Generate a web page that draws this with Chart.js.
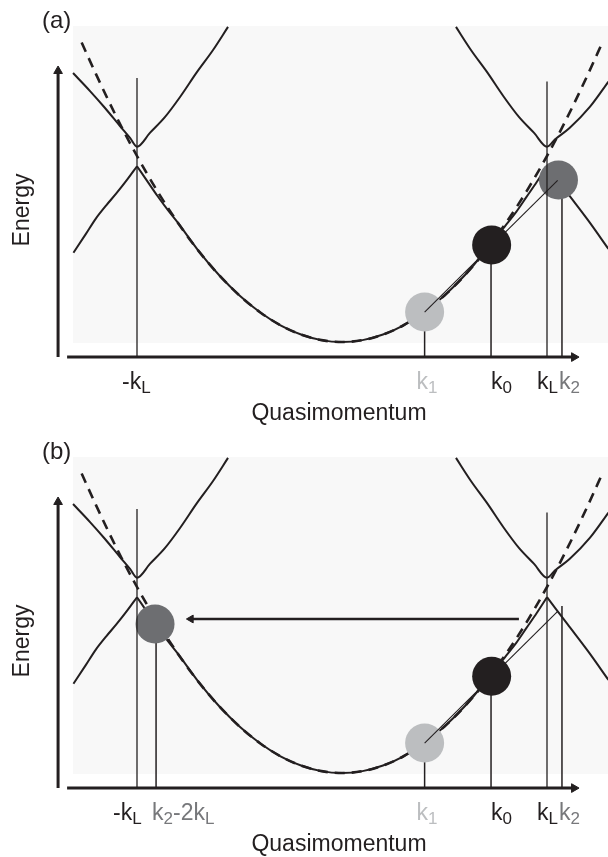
<!DOCTYPE html>
<html>
<head>
<meta charset="utf-8">
<script src="https://cdn.jsdelivr.net/npm/chart.js@4.4.1/dist/chart.umd.min.js"></script>
<style>
  body { margin: 0; background: #fff; }
  .panel { position: absolute; left: 0; }
</style>
</head>
<body>
<div class="panel" style="top:0"><canvas id="chartA" width="608" height="431"></canvas></div>
<div class="panel" style="top:431px"><canvas id="chartB" width="608" height="426"></canvas></div>
<script>
// k in units of k_L, energy in units of the free-particle energy at k_L

// free particle parabola (dashed)
const freeK = [-1.27, -1.2, -1.1, -1.0, -0.9, -0.8, -0.7, -0.6, -0.5, -0.4, -0.3, -0.2, -0.1, 0,
               0.1, 0.2, 0.3, 0.4, 0.5, 0.6, 0.7, 0.8, 0.9, 1.0, 1.1, 1.2, 1.27];
const freeE = [1.61, 1.44, 1.21, 1.0, 0.81, 0.64, 0.49, 0.36, 0.25, 0.16, 0.09, 0.04, 0.01, 0,
               0.01, 0.04, 0.09, 0.16, 0.25, 0.36, 0.49, 0.64, 0.81, 1.0, 1.21, 1.44, 1.61];

// lowest band inside the zone
const lowerK = [-1.0, -0.95, -0.9, -0.85, -0.8, -0.7, -0.6, -0.5, -0.4, -0.3, -0.2, -0.1, 0,
                0.1, 0.2, 0.3, 0.4, 0.5, 0.6, 0.7, 0.8, 0.85, 0.9, 0.95, 1.0];
const lowerE = [0.945, 0.865, 0.785, 0.71, 0.64, 0.49, 0.36, 0.25, 0.16, 0.09, 0.04, 0.01, 0,
                0.01, 0.04, 0.09, 0.16, 0.25, 0.36, 0.49, 0.63, 0.70, 0.78, 0.86, 0.945];

// lowest band folded back outside the zone
const foldLeftK = [-1.31, -1.25, -1.2, -1.15, -1.1, -1.05, -1.0];
const foldLeftE = [0.48, 0.58, 0.665, 0.735, 0.80, 0.87, 0.945];
const foldRightK = [1.0, 1.1, 1.2, 1.3];
const foldRightE = [0.945, 0.80, 0.655, 0.50];

// second band around -k_L and +k_L
const upperLeftK = [-1.312, -1.229, -1.156, -1.083, -1.034, -1.0, -0.937, -0.863, -0.79, -0.707, -0.629, -0.556];
const upperLeftE = [1.446, 1.349, 1.258, 1.161, 1.097, 1.05, 1.124, 1.21, 1.317, 1.452, 1.57, 1.694];
const upperRightK = [0.556, 0.629, 0.707, 0.79, 0.863, 0.937, 1.0, 1.04, 1.11, 1.21, 1.30];
const upperRightE = [1.694, 1.57, 1.452, 1.317, 1.21, 1.124, 1.05, 1.09, 1.15, 1.265, 1.40];

// atoms
const atomK_A = [0.403, 0.73, 1.056];
const atomE_A = [0.161, 0.522, 0.871];
const atomK_B = [0.403, 0.73, -0.912];
const atomE_B = [0.161, 0.52, 0.801];
const atomColors = ['#bcbec0', '#231f20', '#6d6e71'];

// tick positions and where their stems end
const ticksA = [-1, 0.403, 0.727, 1, 1.073];
const stemTopA = [1.42, 0.161, 0.522, 1.40, 0.871];
const ticksB = [-1, -0.907, 0.403, 0.727, 1, 1.073];
const stemTopB = [1.42, 0.801, 0.161, 0.52, 1.40, 0.898];

const tickTextA = [[['-k', 0], ['L', 1]], [['k', 0], ['1', 1]], [['k', 0], ['0', 1]], [['k', 0], ['L', 1]], [['k', 0], ['2', 1]]];
const tickTextB = [[['-k', 0], ['L', 1]], [['k', 0], ['2', 1], ['-2k', 0], ['L', 1]], [['k', 0], ['1', 1]],
                   [['k', 0], ['0', 1]], [['k', 0], ['L', 1]], [['k', 0], ['2', 1]]];
const tickColorA = ['#231f20', '#bcbec0', '#231f20', '#231f20', '#77787b'];
const tickColorB = ['#231f20', '#77787b', '#bcbec0', '#231f20', '#231f20', '#77787b'];
const tickShiftA = [-15, -8, 0, -10, -3];
const tickShiftB = [-24, -4, -8, 0, -10, -3];

// group-velocity chord and Bragg arrow
const chordK = [0.403, 1.052];
const chordE = [0.161, 0.869];
const braggK = [0.863, -0.737];
const braggE = [0.828, 0.828];

const axisE = -0.081;
const ink = '#231f20';
const font = '"Liberation Sans", Arial, Helvetica, sans-serif';

function pts(ks, es) {
  return ks.map(function (k, i) { return { x: k, y: es[i] }; });
}

function curve(ks, es, extra) {
  return Object.assign({
    data: pts(ks, es),
    showLine: true,
    pointRadius: 0,
    borderColor: ink,
    borderWidth: 2,
    borderJoinStyle: 'round',
    cubicInterpolationMode: 'monotone',
    order: 7
  }, extra || {});
}

function segment(k0, e0, k1, e1, width, order) {
  return {
    data: [{ x: k0, y: e0 }, { x: k1, y: e1 }],
    showLine: true,
    pointRadius: 0,
    borderColor: ink,
    borderWidth: width,
    tension: 0,
    order: order
  };
}

function drawPieces(ctx, x, y, pieces, color) {
  ctx.fillStyle = color;
  ctx.textAlign = 'left';
  ctx.textBaseline = 'alphabetic';
  pieces.forEach(function (p) {
    ctx.font = (p[1] ? '17px ' : '23px ') + font;
    ctx.fillText(p[0], x, p[1] ? y + 4 : y);
    x += ctx.measureText(p[0]).width;
  });
}

function makePanel(id, height, tag, ticks, stemTop, tickText, tickColor, tickShift, atomK, atomE, withArrow) {
  const ds = [];

  // axes with arrow heads
  ds.push({
    data: [{ x: -1.385, y: axisE }, { x: -1.385, y: 1.457 }],
    showLine: true, borderColor: ink, borderWidth: 3,
    pointRadius: [0, 5], pointStyle: 'triangle', pointRotation: 0,
    pointBackgroundColor: ink, pointBorderColor: ink, pointBorderWidth: 1, order: 10
  });
  ds.push({
    data: [{ x: -1.341, y: axisE }, { x: 1.132, y: axisE }],
    showLine: true, borderColor: ink, borderWidth: 3,
    pointRadius: [0, 5], pointStyle: 'triangle', pointRotation: 90,
    pointBackgroundColor: ink, pointBorderColor: ink, pointBorderWidth: 1, order: 10
  });

  // vertical lines at the ticks: tall ones at +-k_L go over the atoms
  ticks.forEach(function (k, i) {
    const tall = Math.abs(k) === 1;
    ds.push(segment(k, axisE, k, stemTop[i], tall ? 1.3 : 1.5, tall ? 5 : 9));
  });

  ds.push(curve(freeK, freeE, { borderDash: [10, 7], borderWidth: 2.6, order: 8 }));
  ds.push(curve(lowerK, lowerE));
  ds.push(curve(foldLeftK, foldLeftE));
  ds.push(curve(foldRightK, foldRightE));
  ds.push(curve(upperLeftK, upperLeftE));
  ds.push(curve(upperRightK, upperRightE));

  ds.push({
    data: pts(atomK, atomE),
    showLine: false,
    pointRadius: 19.5,
    pointHoverRadius: 19.5,
    pointBackgroundColor: atomColors,
    pointBorderWidth: 0,
    order: 6
  });

  ds.push(segment(chordK[0], chordE[0], chordK[1], chordE[1], 1.1, 4));

  if (withArrow) {
    ds.push({
      data: pts(braggK, braggE),
      showLine: true, borderColor: ink, borderWidth: 2.6,
      pointRadius: [0, 4.5], pointStyle: 'triangle', pointRotation: -90,
      pointBackgroundColor: ink, pointBorderColor: ink, pointBorderWidth: 1, order: 3
    });
  }

  const backdrop = {
    id: 'backdrop',
    beforeDatasetsDraw: function (chart) {
      const c = chart.ctx, xs = chart.scales.x, ys = chart.scales.y;
      const l = xs.getPixelForValue(-1.312), t = ys.getPixelForValue(1.699);
      const b = ys.getPixelForValue(-0.005);
      c.save();
      c.fillStyle = '#f8f8f8';
      c.fillRect(l, t, chart.width - l, b - t);
      c.restore();
    }
  };

  const labels = {
    id: 'labels',
    afterDraw: function (chart) {
      const c = chart.ctx, xs = chart.scales.x, ys = chart.scales.y;
      const base = ys.getPixelForValue(axisE);
      c.save();
      ticks.forEach(function (k, i) {
        drawPieces(c, xs.getPixelForValue(k) + tickShift[i], base + 32, tickText[i], tickColor[i]);
      });
      c.fillStyle = ink;
      c.font = '23px ' + font;
      c.textAlign = 'center';
      c.textBaseline = 'alphabetic';
      c.fillText('Quasimomentum', 339, base + 63);
      c.font = '24px ' + font;
      c.textAlign = 'left';
      c.fillText(tag, 42, 28);
      c.translate(29, 210);
      c.rotate(-Math.PI / 2);
      c.font = '23px ' + font;
      c.textAlign = 'center';
      c.fillText('Energy', 0, 0);
      c.restore();
    }
  };

  return new Chart(document.getElementById(id), {
    type: 'scatter',
    data: { datasets: ds },
    options: {
      responsive: false,
      animation: false,
      devicePixelRatio: 1,
      events: [],
      layout: { padding: 0, autoPadding: false },
      plugins: { legend: { display: false }, tooltip: { enabled: false } },
      scales: {
        x: { type: 'linear', display: false, min: -342 / 205, max: 266 / 205 },
        y: { type: 'linear', display: false, min: (342 - height) / 186, max: 342 / 186 }
      }
    },
    plugins: [backdrop, labels]
  });
}

makePanel('chartA', 431, '(a)', ticksA, stemTopA, tickTextA, tickColorA, tickShiftA, atomK_A, atomE_A, false);
makePanel('chartB', 426, '(b)', ticksB, stemTopB, tickTextB, tickColorB, tickShiftB, atomK_B, atomE_B, true);
</script>
</body>
</html>
